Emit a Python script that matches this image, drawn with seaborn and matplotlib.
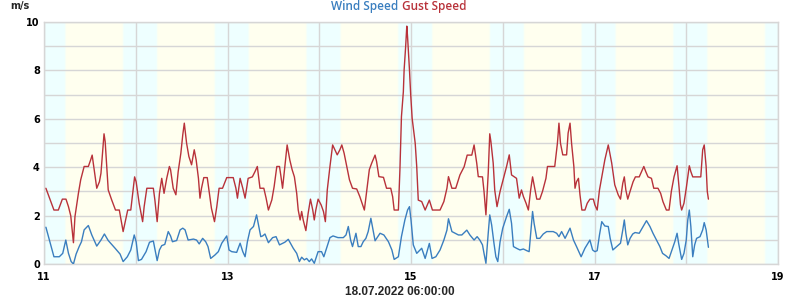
import numpy as np
import pandas as pd
import seaborn as sns
import matplotlib.pyplot as plt

# ---- data (hours since 11.07.2022 00:00) ----
gust_hours = [0.5, 2.6, 3.75, 4.8, 5.75, 6.4, 7.0, 7.7, 8.1, 9.0, 9.6, 10.5, 11.6, 12.2, 12.6, 13.8, 14.5, 14.9,
              15.7, 16.0, 16.8, 17.7, 18.7, 19.7, 20.7, 21.9, 22.7, 23.7, 24.1, 24.9, 25.8, 26.2, 26.9,
              28.6, 29.0, 29.6, 30.2, 30.8, 31.4, 32.1, 32.8, 33.1, 33.8, 34.5, 35.1, 35.8, 36.3, 36.7, 37.3,
              37.9, 38.6, 39.3, 39.8, 40.4, 40.8, 41.2, 41.8, 42.7, 43.2, 43.8, 44.6, 45.2, 45.8, 46.7, 47.8,
              49.5, 50.2, 50.6, 51.3, 52.0, 52.6, 53.4, 54.5, 55.2, 55.8, 56.5,
              57.5, 58.1, 58.7, 59.6, 60.2, 60.9, 61.6, 62.0, 62.4, 63.0, 63.6, 64.3, 64.9, 65.5, 66.1, 66.5,
              67.0, 67.4, 67.8, 68.5, 69.1, 69.7, 70.3, 70.7, 71.1, 71.7, 72.5, 73.1, 73.6, 74.1, 74.8, 75.5,
              76.1, 76.7, 77.4, 77.9, 78.5, 79.2, 79.9, 80.7, 81.8, 82.6, 83.8, 84.4, 85.1,
              85.7, 86.6, 87.0, 87.6, 88.8, 89.6, 90.7, 91.2, 91.6, 92.7, 93.1, 93.5, 94.0, 94.2, 94.6, 94.9,
              95.1, 95.6, 95.9, 96.3, 97.1, 97.5, 97.9, 98.8, 99.7, 100.8, 101.6, 103.6, 104.6, 105.4, 105.8,
              106.7, 107.7, 108.8, 109.9, 110.7, 111.9, 112.5, 113.2, 113.6,
              114.7, 115.1, 115.6, 116.2, 116.6, 116.9, 117.5, 117.9, 118.5, 119.3, 120.1, 121.0, 121.7, 122.3,
              123.6, 124.3, 124.9, 125.4, 126.1, 126.7, 127.3, 127.8, 128.2, 128.9, 129.7, 130.4, 131.3, 131.7,
              133.6, 134.3, 134.7, 135.1, 135.7, 136.7, 137.1, 137.6, 138.0, 138.6, 138.9, 139.3, 139.8, 140.2,
              140.7, 141.5, 142.1, 142.8,
              143.7, 144.1, 144.7, 145.3, 145.9, 146.7, 147.6, 148.5, 149.3, 150.2, 150.8, 151.4, 151.8, 152.2,
              152.7, 153.3, 154.1, 154.7, 155.7, 156.3, 156.9, 157.4, 158.0, 158.9, 159.5, 160.6, 161.3, 161.9,
              162.8, 163.5, 164.1, 164.8, 165.6, 166.1, 166.5, 166.8, 167.4, 168.0, 168.4, 168.8, 169.2, 169.7,
              170.7, 171.8, 172.3, 172.7, 173.2, 173.5, 173.8]
gust_values = [3.13, 2.23, 2.23, 2.68, 2.68, 2.37, 1.99, 0.88, 1.96, 2.92, 3.48, 4.03, 4.03, 4.3, 4.5, 3.13, 3.4, 3.75,
               5.38, 5.06, 3.06, 2.65, 2.23, 2.23, 1.34, 2.23, 2.23, 3.6, 3.4, 2.5, 1.75, 2.37, 3.13,
               3.13, 2.65, 1.75, 2.92, 3.54, 2.92, 3.54, 4.03, 3.9, 3.13, 2.86, 3.82, 4.58, 5.34, 5.82, 4.99,
               4.44, 4.1, 4.72, 4.3, 3.54, 2.72, 3.13, 3.57, 3.57, 3.0, 2.3, 1.75, 2.37, 3.13, 3.13, 3.57,
               3.57, 3.13, 2.72, 3.54, 3.13, 2.72, 3.54, 3.6, 3.82, 4.03, 3.13,
               3.13, 2.72, 2.23, 2.65, 3.2, 4.03, 4.03, 3.6, 3.13, 4.03, 4.92, 4.3, 3.9, 3.6, 2.92, 2.23,
               1.82, 2.17, 1.82, 1.38, 2.1, 2.68, 2.23, 1.82, 2.23, 2.68, 2.44, 2.17, 1.75, 3.06, 4.03, 4.92,
               4.72, 4.51, 4.72, 4.92, 4.58, 4.03, 3.48, 3.13, 3.1, 2.79, 2.23, 3.0, 3.9,
               4.16, 4.5, 4.23, 3.61, 3.58, 3.13, 3.13, 2.78, 2.23, 2.23, 3.88, 6.09, 7.12, 8.02, 8.98, 9.83,
               9.39, 8.02, 7.05, 6.02, 4.99, 4.02, 2.64, 2.58, 2.23, 2.64, 2.23, 2.23, 2.58, 3.13, 3.61,
               3.13, 3.13, 3.68, 4.02, 4.5, 4.5, 4.92, 4.16, 3.61,
               3.6, 3.0, 2.03, 3.75, 5.38, 5.06, 4.17, 3.06, 2.37, 3.0, 3.48, 4.03, 4.51, 3.68,
               3.54, 2.72, 3.06, 2.79, 2.51, 2.23, 3.06, 3.6, 3.27, 2.68, 2.68, 3.0, 3.54, 4.03,
               4.03, 4.99, 5.82, 4.99, 4.51, 4.51, 5.41, 5.82, 4.99, 4.03, 3.13, 3.4, 3.54, 2.86,
               2.23, 2.23, 2.51, 2.68,
               2.68, 2.44, 2.23, 3.06, 3.6, 4.3, 4.92, 4.17, 3.27, 2.86, 2.68, 3.34, 3.6, 3.06,
               2.68, 3.0, 3.4, 3.6, 3.6, 3.82, 4.03, 3.82, 3.6, 3.54, 3.13, 3.13, 2.92, 2.58,
               2.23, 2.23, 3.0, 3.6, 4.06, 3.2, 2.44, 2.23, 2.51, 3.13, 3.6, 4.06, 3.82, 3.6,
               3.6, 3.6, 4.72, 4.92, 4.03, 3.0, 2.68]

wind_hours = [0.5, 2.6, 4.0, 4.9, 5.7, 6.4, 7.1, 7.7, 8.4, 9.2, 9.8, 10.5, 11.6, 12.5, 13.8, 14.9, 15.8, 16.8,
              18.6, 19.9, 20.7, 21.8, 22.7, 23.6, 24.1, 24.7, 25.5, 26.7, 27.6,
              28.6, 29.3, 29.6, 30.2, 30.8, 31.6, 32.5, 33.1, 33.6, 34.7, 35.6, 36.3, 36.9, 37.7, 39.1, 39.9,
              40.6, 41.5, 42.3, 42.9, 43.6, 44.7, 45.6, 46.5, 47.8, 48.4, 49.1, 50.4, 51.3, 52.0, 52.6, 53.2,
              53.9, 54.8, 55.6, 56.1, 56.7,
              57.2, 57.8, 58.7, 59.8, 60.7, 61.6, 63.0, 63.9, 65.2, 66.1, 66.8, 67.4, 68.1, 68.7, 69.4, 70.0,
              70.7, 71.7, 72.6, 73.2, 73.9, 74.8, 75.6, 76.9, 78.3, 79.0, 79.6, 80.2, 80.7, 81.6, 82.2, 82.9,
              83.5, 84.2, 84.8, 85.5,
              86.6, 87.9, 88.9, 90.1, 91.0, 91.6, 92.7, 93.5, 94.4, 95.1, 95.6, 96.0, 96.6, 97.5, 98.8, 99.7,
              100.8, 101.5, 102.5, 103.6, 104.6, 105.4, 105.8, 106.7, 108.4, 109.3, 110.6, 111.4, 112.5,
              113.3, 114.0,
              114.7, 115.1, 115.6, 116.2, 116.6, 117.1, 117.7, 118.2, 118.7, 119.3, 120.0, 121.0, 121.7, 122.3,
              122.8, 123.6, 124.5, 125.4, 126.3, 126.9, 127.4, 127.8, 128.2, 128.9, 129.7, 130.6, 131.5, 133.2,
              134.1, 134.7, 135.4, 136.3, 137.6, 138.5, 139.3, 140.5, 141.5, 142.8,
              143.5, 144.1, 144.7, 145.3, 145.9, 146.7, 147.6, 148.1, 148.8, 149.8, 150.8, 151.4, 151.8, 152.2,
              152.7, 153.3, 154.0, 154.6, 155.7, 156.8, 157.6, 158.5, 159.3, 160.2, 161.1, 161.8, 162.7, 163.5,
              164.4, 165.0, 165.6, 166.0, 166.5, 166.8, 167.4, 168.0, 168.4, 168.8, 169.2, 169.7, 170.2, 170.7,
              171.6, 172.3, 172.7, 173.2, 173.5, 173.8]
wind_values = [1.52, 0.30, 0.30, 0.44, 0.99, 0.44, 0.10, 0.0, 0.41, 0.72, 0.92, 1.41, 1.59, 1.2, 0.74, 0.99, 1.24, 0.97,
               0.65, 0.41, 0.10, 0.30, 0.58, 1.2, 0.92, 0.14, 0.19, 0.51, 0.9,
               0.95, 0.37, 0.14, 0.58, 0.76, 0.81, 1.34, 1.16, 0.92, 0.97, 1.41, 1.48, 1.41, 0.99, 1.03, 0.99,
               0.83, 1.06, 0.92, 0.72, 0.23, 0.37, 0.51, 0.86, 1.16, 0.58, 0.51, 0.48, 0.86, 0.51, 0.3, 0.92,
               1.41, 1.55, 2.03, 1.61, 1.13,
               1.16, 1.24, 0.88, 1.09, 1.13, 0.79, 0.9, 1.02, 0.65, 0.44, 0.1, 0.28, 0.17, 0.23, 0.1, 0.21,
               0.03, 0.51, 0.51, 0.3, 0.65, 1.09, 1.16, 1.09, 1.09, 1.2, 1.55, 0.99, 0.72, 1.27, 0.72, 0.72,
               0.92, 1.06, 1.34, 1.89,
               0.96, 1.27, 1.2, 0.92, 0.58, 0.19, 0.3, 1.13, 1.82, 2.23, 2.37, 1.82, 0.79, 0.44, 0.65, 0.23,
               0.85, 0.23, 0.3, 0.58, 0.99, 1.4, 1.87, 1.34, 1.2, 1.2, 1.4, 1.2, 0.99,
               1.13, 0.99,
               0.79, 0.44, 0.03, 1.27, 2.03, 1.61, 0.86, 0.3, 0.1, 0.92, 1.48, 1.96, 2.26, 1.68,
               0.72, 0.65, 0.58, 0.62, 0.55, 0.51, 1.41, 2.17, 1.68, 1.06, 1.06, 1.24, 1.34, 1.34,
               1.27, 1.13, 1.34, 1.06, 1.48, 0.99, 0.72, 0.3, 0.65, 0.99,
               0.58, 0.51, 0.55, 1.2, 1.75, 1.57, 1.55, 1.06, 0.58, 0.72, 0.86, 1.41, 1.82, 1.27,
               0.79, 1.06, 1.24, 1.3, 1.27, 1.57, 1.79, 1.55, 1.27, 0.99, 0.72, 0.44, 0.34, 0.23,
               0.65, 0.92, 1.27, 0.86, 0.44, 0.19, 0.44, 0.99, 1.82, 2.23, 1.55, 0.3, 0.79, 1.06,
               1.13, 1.41, 1.71, 1.41, 1.06, 0.69]

x_tick_days = [11, 12, 13, 14, 15, 16, 17, 18, 19]
x_tick_labels = ["11", "", "13", "", "15", "", "17", "", "19"]
y_ticks = list(range(0, 11))
y_tick_labels = ["0", "", "2", "", "4", "", "6", "", "8", "", "10"]
series_names = ["Wind Speed", "Gust Speed"]
unit_label = "m/s"
time_label = "18.07.2022 06:00:00"
sunrise_h, sunset_h = 5.55, 20.65

WIND_C = "#3a7ebf"
GUST_C = "#b8323a"
GRID_C = "#d6d6d6"

df_wind = pd.DataFrame({"day": 11 + np.array(wind_hours) / 24.0, "val": wind_values})
df_gust = pd.DataFrame({"day": 11 + np.array(gust_hours) / 24.0, "val": gust_values})

sns.set_theme(style="white")
plt.rcParams["font.family"] = ["DejaVu Sans"]

fig = plt.figure(figsize=(8, 3), dpi=100)
ax = fig.add_axes([44 / 800, 1 - 264 / 300, (778 - 44) / 800, (264 - 22) / 300])

# day/night background
t = np.linspace(11, 19, 2000)
hod = (t % 1) * 24
w = 0.45
day_f = np.clip((hod - sunrise_h) / w + 0.5, 0, 1) * np.clip((sunset_h - hod) / w + 0.5, 0, 1)
night = np.array([0.935, 1.0, 1.0])
day = np.array([1.0, 1.0, 0.94])
cols = night[None, :] * (1 - day_f[:, None]) + day[None, :] * day_f[:, None]
ax.imshow(cols[None, :, :], extent=[11, 19, 0, 10], aspect="auto", zorder=0, interpolation="bilinear")

sns.lineplot(data=df_gust, x="day", y="val", color=GUST_C, linewidth=1.0, ax=ax, zorder=3)
sns.lineplot(data=df_wind, x="day", y="val", color=WIND_C, linewidth=1.0, ax=ax, zorder=3)

ax.set_xlim(11, 19)
ax.set_ylim(0, 10)
ax.set_xticks(x_tick_days)
ax.set_xticklabels(x_tick_labels)
ax.set_yticks(y_ticks)
ax.set_yticklabels(y_tick_labels)
ax.set_xlabel("")
ax.set_ylabel("")
ax.grid(True, color=GRID_C, linewidth=1.0, zorder=1)
ax.set_axisbelow(True)
for s in ax.spines.values():
    s.set_color(GRID_C)
    s.set_linewidth(1.0)
ax.tick_params(axis="both", length=0, labelsize=7, colors="black")
ax.tick_params(axis="y", pad=3)
ax.tick_params(axis="x", pad=6)
for lab in ax.get_xticklabels() + ax.get_yticklabels():
    lab.set_fontweight("bold")

fig.text(10 / 800, 1 - 6.5 / 300, unit_label, fontsize=7, fontweight="bold", ha="left", va="center")
fig.text(398 / 800, 1 - 6.5 / 300, series_names[0], fontsize=8.5, color=WIND_C, ha="right", va="center",
         family=["Open Sans", "DejaVu Sans"], fontweight="semibold")
fig.text(402 / 800, 1 - 6.5 / 300, series_names[1], fontsize=8.5, color=GUST_C, ha="left", va="center",
         family=["Open Sans", "DejaVu Sans"], fontweight="semibold")
fig.text(400 / 800, 1 - 292 / 300, time_label, fontsize=8.5, fontweight="bold", ha="center", va="center",
         family=["Liberation Sans", "DejaVu Sans"])

fig.savefig("out.png", dpi=100)
